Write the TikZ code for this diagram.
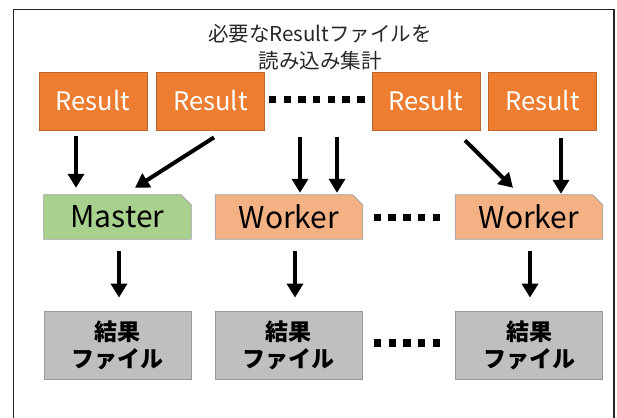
\documentclass[tikz,border=0pt]{standalone}
\usepackage{fontspec}
\setmainfont{Noto Sans CJK JP}
\usetikzlibrary{arrows.meta,calc,backgrounds}
\definecolor{resorange}{HTML}{ED7D31}
\definecolor{resedge}{HTML}{C0652A}
\definecolor{mgreen}{HTML}{A9D18E}
\definecolor{wsalmon}{HTML}{F4B183}
\definecolor{fgray}{HTML}{BFBFBF}
\definecolor{edgegray}{HTML}{9A9A9A}
\tikzset{
  x=1pt, y=-1pt,
  resbox/.style={fill=resorange, draw=resedge, line width=0.8pt, minimum width=108pt, minimum height=58pt, inner sep=0pt, text=white, font=\fontsize{25.5}{26}\selectfont},
  procbox/.style={minimum width=147pt, minimum height=44pt, inner sep=0pt, font=\fontsize{30}{30}\selectfont},
  filebox/.style={fill=fgray, draw=edgegray, line width=0.8pt, minimum width=147pt, minimum height=68pt, inner sep=0pt, align=center, font=\bfseries\fontsize{23}{27}\selectfont},
  bigarrow/.style={line width=4pt, -{Triangle[width=16pt,length=14pt]}},
  dotline/.style={line width=7.5pt, dash pattern=on 7.4pt off 7.3pt},
}
\newcommand{\cutbox}[2]{%
  \begin{pgfonlayer}{background}
  \draw[fill=#2, draw=edgegray, line width=0.8pt] (#1.south west) -- (#1.north west) -- ($(#1.north east)+(-10,0)$) -- ($(#1.north east)+(0,10)$) -- (#1.south east) -- cycle;
  \end{pgfonlayer}}
\begin{document}
\begin{tikzpicture}
\clip (0,0) rectangle (617,417);
\draw[line width=1.4pt, draw=black!85] (13.5,9.5) rectangle (614,430);

\node[align=center, font=\fontsize{20.5}{27}\selectfont, text=black!85] (title) at (320,47) {必要なResultファイルを\\読み込み集計};

\node[resbox] (r1) at (93,101) {Result};
\node[resbox] (r2) at (210.5,101) {Result};
\node[resbox] (r3) at (426,101) {Result};
\node[resbox] (r4) at (542.5,101) {Result};

\node[procbox] (m) at (117.5,217) {Master};
\node[procbox] (w1) at (289,217) {Worker};
\node[procbox] (w2) at (529,217) {Worker};
\cutbox{m}{mgreen}
\cutbox{w1}{wsalmon}
\cutbox{w2}{wsalmon}

\node[filebox] (f1) at (117.5,345) {結果\\ファイル};
\node[filebox] (f2) at (288.5,345) {結果\\ファイル};
\node[filebox] (f3) at (529,345) {結果\\ファイル};

\coordinate (d1s) at ($(r2.east)+(4,-1.7)$);
\coordinate (d1e) at ($(r3.west)+(-7,-1.7)$);
\draw[dotline] (d1s) -- (d1e);
\coordinate (d2s) at ($(w1.east)+(11,0.5)$);
\coordinate (d2e) at ($(w2.west)+(-15,0.5)$);
\draw[dotline] (d2s) -- (d2e);
\coordinate (d3s) at ($(f2.east)+(11.5,-2)$);
\coordinate (d3e) at ($(f3.west)+(-15,-2)$);
\draw[dotline] (d3s) -- (d3e);

\draw[bigarrow] ($(r1.south)+(-17,6)$) -- ($(m.north)+(-41.5,-7)$);
\draw[bigarrow] ($(r2.south)+(3.5,7)$) -- ($(m.north)+(17.5,-7)$);
\coordinate (wa) at ($(w1.north)+(11,-58)$);
\coordinate (wb) at ($(w1.north)+(48,-58)$);
\draw[bigarrow] (wa) -- ($(w1.north)+(11,-2)$);
\draw[bigarrow] (wb) -- ($(w1.north)+(48,-2)$);
\draw[bigarrow] ($(r3.south)+(39,10)$) -- ($(w2.north)+(-16,-7)$);
\draw[bigarrow] ($(r4.south)+(18.5,8)$) -- ($(w2.north)+(32,-1)$);

\draw[bigarrow] ($(m.south)+(1.5,12)$) -- ($(f1.north)+(1.5,-13)$);
\draw[bigarrow] ($(w1.south)+(6,12)$) -- ($(f2.north)+(6.5,-13)$);
\draw[bigarrow] ($(w2.south)+(1,12)$) -- ($(f3.north)+(1,-13)$);
\end{tikzpicture}
\end{document}
